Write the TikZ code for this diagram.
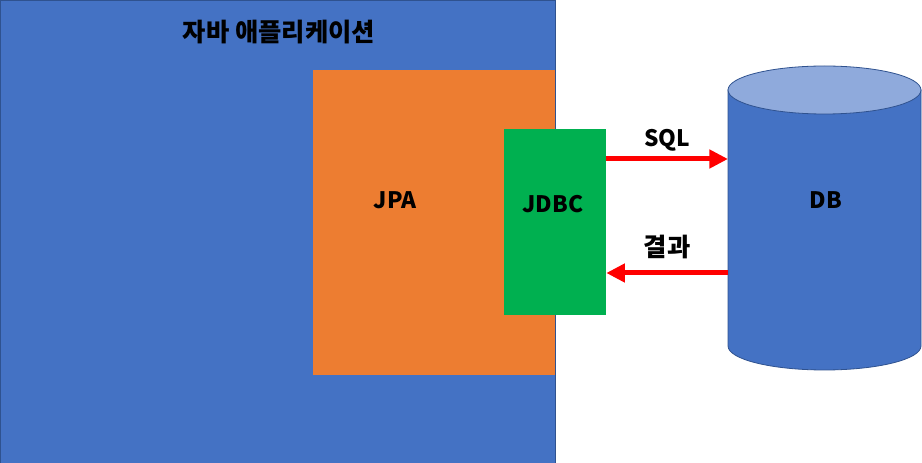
\documentclass[tikz,border=0pt]{standalone}
\usepackage{fontspec}
\setmainfont{Noto Sans CJK KR}
\usetikzlibrary{arrows.meta}
\definecolor{appblue}{HTML}{4472C4}
\definecolor{edgeblue}{HTML}{2F528F}
\definecolor{jpaorange}{HTML}{ED7D31}
\definecolor{jdbcgreen}{HTML}{00B050}
\definecolor{dbtop}{HTML}{8FAADC}
\begin{document}
\begin{tikzpicture}[x=0.75pt,y=-0.75pt,
	label/.style={text=black,font=\fontsize{17}{20}\selectfont\bfseries,inner sep=0pt},
	krlabel/.style={label,font=\fontsize{19}{22}\selectfont\bfseries},
	query/.style={red,line width=3.75pt,-{Triangle[length=14pt,width=13.5pt]}}]
		\useasboundingbox (0,0) rectangle (922,463);
		%application
		\filldraw[fill=appblue,draw=edgeblue,line width=0.5pt] (0,0) rectangle (555,463);
		\node[krlabel] (app) at (279,32) {자바 애플리케이션};
		\fill[jpaorange] (313,70) rectangle (555,375);
		\node[label] (jpa) at (395,200) {JPA};
		\node[fill=jdbcgreen,inner sep=0pt,minimum width=76.5pt,minimum height=139.5pt] (jdbcbox) at (555,222) {};
		\node[label] (jdbc) at (553,204) {JDBC};
		
		%db
		\filldraw[fill=appblue,draw=edgeblue,line width=0.6pt] (728,90) -- (728,346) arc (180:0:96.5 and 24) -- (921,90) -- cycle;
		\filldraw[fill=dbtop,draw=edgeblue,line width=0.6pt] (824.5,90) ellipse (96.5 and 24);
		\node[label] (db) at (826,200) {DB};
		\coordinate (dbin) at (728,159);
		\coordinate (dbout) at (728,273);
		
		\draw[query] (jdbcbox.east |- dbin) -- (dbin) node[pos=0.5,label,above=4pt] (sql) {SQL};
		\draw[query] (dbout) -- (jdbcbox.east |- dbout) node[pos=0.5,krlabel,above=9pt] (result) {결과};
		
		\end{tikzpicture}
\end{document}
